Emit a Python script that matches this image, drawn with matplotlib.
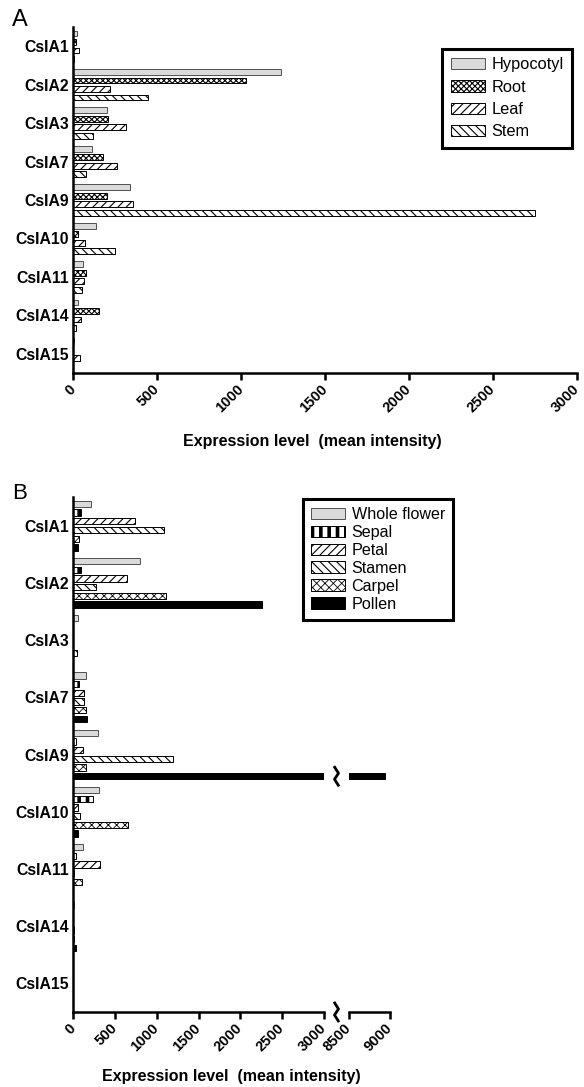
import numpy as np
import matplotlib
matplotlib.use('Agg')
import matplotlib.pyplot as plt
from matplotlib.patches import Patch
from matplotlib.lines import Line2D

plt.rcParams['font.family'] = ['Liberation Sans', 'DejaVu Sans']
plt.rcParams['hatch.linewidth'] = 0.8

genes = ['CsIA1', 'CsIA2', 'CsIA3', 'CsIA7', 'CsIA9', 'CsIA10', 'CsIA11', 'CsIA14', 'CsIA15']

# panel A: vegetative tissues
tissues_a = ['Hypocotyl', 'Root', 'Leaf', 'Stem']
hypocotyl = [24, 1240, 200, 115, 340, 138, 59, 27, 3]
root = [18, 1030, 210, 177, 205, 27, 77, 155, 2]
leaf = [38, 220, 318, 260, 358, 69, 63, 47, 40]
stem = [3, 447, 118, 77, 2750, 250, 55, 18, 0]

# panel B: flower tissues
tissues_b = ['Whole flower', 'Sepal', 'Petal', 'Stamen', 'Carpel', 'Pollen']
whole_flower = [218, 800, 55, 155, 294, 310, 115, 8, 0]
sepal = [100, 100, 0, 75, 39, 234, 36, 5, 0]
petal = [740, 644, 0, 127, 115, 59, 318, 5, 0]
stamen = [1090, 274, 0, 127, 1200, 79, 15, 8, 0]
carpel = [75, 1113, 48, 155, 155, 663, 110, 10, 0]
pollen = [55, 2255, 0, 167, 8940, 59, 0, 40, 0]

ticks_a = [0, 500, 1000, 1500, 2000, 2500, 3000]
ticks_b_low = [0, 500, 1000, 1500, 2000, 2500, 3000]
ticks_b_high = [8500, 9000]

# (face, edge, hatch, hatch linewidth)
styles_a = [('#dadada', '#505050', None, 0.8),
            ('white', 'black', 'xxxxxx', 0.8),
            ('white', 'black', '////', 0.8),
            ('white', 'black', '\\\\\\\\', 0.8)]
styles_b = [('#dadada', '#505050', None, 0.8),
            ('white', 'black', '||', 2.6),
            ('white', 'black', '////', 0.8),
            ('white', 'black', '\\\\\\\\', 0.8),
            ('white', 'black', 'xxxx', 0.6),
            ('black', 'black', None, 0.8)]

SPINE_LW = 1.8


def set_hlw(p, lw):
    # hatch width per patch; also forced at draw time in case it is read from rcParams
    if hasattr(p, 'set_hatch_linewidth'):
        p.set_hatch_linewidth(lw)
    orig = p.draw

    def draw(renderer, _orig=orig, _lw=lw):
        with plt.rc_context({'hatch.linewidth': _lw}):
            _orig(renderer)
    p.draw = draw


def draw_bars(ax, series, styles, step, height):
    n = len(series)
    ypos = np.arange(len(genes))
    for i, (vals, (fc, ec, h, hlw)) in enumerate(zip(series, styles)):
        with plt.rc_context({'hatch.linewidth': hlw}):
            bc = ax.barh(ypos + (i - (n - 1) / 2) * step, vals, height=height,
                         color=fc, edgecolor=ec, hatch=h, linewidth=0.7)
        for p in bc:
            set_hlw(p, hlw)


def style_axis(ax, show_left=True):
    ax.spines['top'].set_visible(False)
    ax.spines['right'].set_visible(False)
    ax.spines['left'].set_visible(show_left)
    for s in ('left', 'bottom'):
        ax.spines[s].set_linewidth(SPINE_LW)
    ax.set_ylim(len(genes) - 0.5, -0.5)
    ax.tick_params(axis='x', direction='out', length=5, width=SPINE_LW, pad=5)
    ax.tick_params(axis='y', length=0, pad=3)
    if show_left:
        ax.set_yticks(range(len(genes)))
        ax.set_yticklabels(genes, fontsize=11.3, fontweight='bold')
    else:
        ax.set_yticks([])


def legend_handles(styles):
    return [Patch(facecolor=fc, edgecolor=ec, hatch=h, linewidth=0.7)
            for fc, ec, h, hlw in styles]


def fix_legend(leg, styles):
    leg.get_frame().set_linewidth(2.2)
    for p, st in zip(leg.get_patches(), styles):
        set_hlw(p, st[3])


def rot_ticks(ax, ticks):
    ax.set_xticks(ticks)
    ax.set_xticklabels([str(t) for t in ticks], rotation=45, ha='right',
                       va='center', rotation_mode='anchor', fontsize=10.5,
                       fontweight='bold')


fig = plt.figure(figsize=(5.84, 10.87), dpi=100)
W, H = 584.0, 1087.0

# ---- panel A ----
ax_a = fig.add_axes([73 / W, 1 - 373 / H, 504 / W, 346 / H])
draw_bars(ax_a, [hypocotyl, root, leaf, stem], styles_a, 0.222, 0.15)
style_axis(ax_a)
ax_a.set_xlim(0, 3000)
rot_ticks(ax_a, ticks_a)
with plt.rc_context({'hatch.linewidth': 0.8}):
    leg = ax_a.legend(legend_handles(styles_a), tissues_a, loc='upper right',
                      bbox_to_anchor=(0.99, 0.936), fancybox=False, framealpha=1,
                      edgecolor='black', fontsize=11.8, handlelength=2.1,
                      handleheight=0.7, labelspacing=0.45, handletextpad=0.4,
                      borderpad=0.5, borderaxespad=0)
fix_legend(leg, styles_a)
fig.text(312 / W, 1 - 441 / H, 'Expression level  (mean intensity)',
         ha='center', va='center', fontsize=11.5, fontweight='bold')
fig.text(12 / W, 1 - 31 / H, 'A', fontsize=17, va='bottom')

# ---- panel B (broken x axis) ----
b_bottom, b_top = 1 - 1012 / H, 1 - 497 / H
ax_bl = fig.add_axes([73 / W, b_bottom, 251 / W, b_top - b_bottom])
ax_br = fig.add_axes([349 / W, b_bottom, 41 / W, b_top - b_bottom])
series_b = [whole_flower, sepal, petal, stamen, carpel, pollen]
draw_bars(ax_bl, series_b, styles_b, 0.152, 0.11)
draw_bars(ax_br, series_b, styles_b, 0.152, 0.11)
style_axis(ax_bl)
style_axis(ax_br, show_left=False)
ax_bl.set_xlim(0, 3000)
ax_br.set_xlim(8500, 9000)
rot_ticks(ax_bl, ticks_b_low)
rot_ticks(ax_br, ticks_b_high)

legb = fig.legend(legend_handles(styles_b), tissues_b, loc='upper right',
                  bbox_to_anchor=(453 / W, 1 - 499 / H), fancybox=False,
                  framealpha=1, edgecolor='black', fontsize=11.6,
                  handlelength=2.1, handleheight=0.7, labelspacing=0.18,
                  handletextpad=0.4, borderpad=0.5, borderaxespad=0)
fix_legend(legb, styles_b)

fig.text(231 / W, 1 - 1076 / H, 'Expression level  (mean intensity)',
         ha='center', va='center', fontsize=11.5, fontweight='bold')
fig.text(12 / W, 1 - 504 / H, 'B', fontsize=16, va='bottom')

# break marks: on the axis and on the long pollen bar of CsIA9
xb = (ax_bl.get_position().x1 + ax_br.get_position().x0) / 2 * W
zig = np.array([[-1.8, 9], [2.0, 3], [-2.0, -3], [1.8, -9]])


def add_zig(ycen_px):
    pts = zig + [xb, ycen_px]
    fig.add_artist(Line2D(pts[:, 0] / W, pts[:, 1] / H, transform=fig.transFigure,
                          color='black', lw=2.0, solid_joinstyle='round'))


add_zig(b_bottom * H)
bar_y = genes.index('CsIA9') + (5 - 2.5) * 0.152
add_zig(ax_bl.transData.transform((0, bar_y))[1])

fig.savefig('out.png', dpi=100)
